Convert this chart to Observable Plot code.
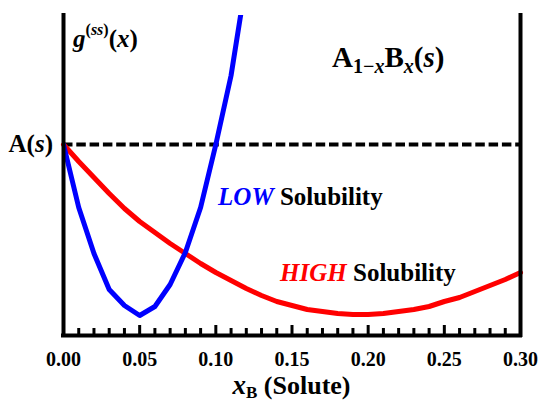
<!DOCTYPE html>
<html><head><meta charset="utf-8">
<script src="https://cdn.jsdelivr.net/npm/d3@7"></script>
<script src="https://cdn.jsdelivr.net/npm/@observablehq/plot@0.6"></script>
<style>body{margin:0;background:#fff} svg{display:block}</style>
</head><body><div id="chart"></div>
<script>
// composition x_B of the solute
const lowX  = [0.00,0.01,0.02,0.03,0.04,0.05,0.06,0.07,0.08,0.09,0.10,0.11,0.12];
// g(ss)(x) relative to A(s), low solubility (blue)
const lowG  = [0,-0.63,-1.09,-1.45,-1.61,-1.71,-1.62,-1.40,-1.08,-0.63,0,0.69,1.65];
const highX = [0.00,0.01,0.02,0.03,0.04,0.05,0.06,0.07,0.08,0.09,0.10,0.11,0.12,0.13,0.14,0.15,0.16,0.17,0.18,0.19,0.20,0.21,0.22,0.23,0.24,0.25,0.26,0.27,0.28,0.29,0.30];
// g(ss)(x) relative to A(s), high solubility (red)
const highG = [0,-0.17,-0.33,-0.49,-0.64,-0.77,-0.88,-0.99,-1.09,-1.19,-1.28,-1.36,-1.44,-1.51,-1.57,-1.61,-1.65,-1.67,-1.69,-1.70,-1.70,-1.69,-1.67,-1.65,-1.62,-1.57,-1.53,-1.47,-1.41,-1.35,-1.28];
const majorTicks = [0.00,0.05,0.10,0.15,0.20,0.25,0.30];
const minorTicks = [0.01,0.02,0.03,0.04,0.06,0.07,0.08,0.09,0.11,0.12,0.13,0.14,0.16,0.17,0.18,0.19,0.21,0.22,0.23,0.24,0.26,0.27,0.28,0.29];
const refLevel = [0]; // A(s)
const yDomain = [-1.91, 1.29];

const lowData = lowX.map((x, i) => ({x, g: lowG[i]}));
const highData = highX.map((x, i) => ({x, g: highG[i]}));
const font = "Liberation Serif";
const [yMin, yMax] = yDomain;

const plot = Plot.plot({
  width: 539, height: 404,
  marginLeft: 63, marginRight: 19, marginTop: 15, marginBottom: 69,
  x: {domain: [0, 0.3]},
  y: {domain: yDomain, axis: null},
  style: {background: "#fff", color: "#000"},
  marks: [
    Plot.ruleY(refLevel, {x1: 0, x2: 0.3, stroke: "#000", strokeWidth: 3.8, strokeDasharray: "9.5,3.8"}),
    Plot.line(highData, {x: "x", y: "g", stroke: "#ff0000", strokeWidth: 5, strokeLinejoin: "round", strokeLinecap: "round"}),
    Plot.line(lowData, {x: "x", y: "g", stroke: "#0000ff", strokeWidth: 5, strokeLinejoin: "round", strokeLinecap: "round", clip: true}),
    Plot.ruleX(minorTicks, {y1: yMin, y2: yMin + 0.07, stroke: "#000", strokeWidth: 3}),
    Plot.ruleX(majorTicks, {y1: yMin, y2: yMin + 0.1, stroke: "#000", strokeWidth: 3}),
    Plot.ruleX([0, 0.3], {y1: yMin, y2: yMax, stroke: "#000", strokeWidth: 4, strokeLinecap: "square"}),
    Plot.ruleY([yMin], {x1: 0, x2: 0.3, stroke: "#000", strokeWidth: 4, strokeLinecap: "square"}),
    Plot.axisX(majorTicks, {tickSize: 0, tickPadding: 16, tickFormat: d3.format(".2f"), fontSize: 20, fontWeight: "bold", fill: "#000", label: null})
  ]
});

const svg = d3.select(plot);
svg.attr("font-family", font).attr("font-weight", "bold");
svg.selectAll("g").attr("font-family", font);
svg.selectAll("text").attr("font-family", font).attr("font-weight", "bold");
const X = plot.scale("x"), Y = plot.scale("y");
function rich(x, y, parts, anchor = "start") {
  const t = svg.append("text").attr("x", x).attr("y", y)
    .attr("text-anchor", anchor).attr("font-family", font).attr("font-weight", "bold");
  for (const p of parts) {
    const s = t.append("tspan").text(p.t).attr("font-size", p.size).attr("font-family", font);
    if (p.italic) s.attr("font-style", "italic");
    if (p.dy) s.attr("dy", p.dy);
    s.attr("fill", p.fill || "#000");
  }
  return t;
}
// g^(ss)(x)
rich(X.apply(0.0066), Y.apply(0.97), [
  {t: "g", size: 25, italic: true},
  {t: "(", size: 16, dy: -12},
  {t: "ss", size: 16, italic: true},
  {t: ")", size: 16},
  {t: "(", size: 25, dy: 12},
  {t: "x", size: 25, italic: true},
  {t: ")", size: 25}
]);
// A1-xBx(s)
rich(X.apply(0.1766), Y.apply(0.77), [
  {t: "A", size: 29},
  {t: "1−", size: 20, dy: 6},
  {t: "x", size: 20, italic: true},
  {t: "B", size: 29, dy: -6},
  {t: "x", size: 20, italic: true, dy: 6},
  {t: "(", size: 29, dy: -6},
  {t: "s", size: 29, italic: true},
  {t: ")", size: 29}
]);
// A(s)
rich(X.apply(0) - 10, Y.apply(refLevel[0]) + 8, [
  {t: "A", size: 25}, {t: "(", size: 25}, {t: "s", size: 25, italic: true}, {t: ")", size: 25}
], "end");
// LOW Solubility
rich(X.apply(0.1018), Y.apply(-0.61), [
  {t: "LOW", size: 25, italic: true, fill: "#0000ff"},
  {t: " Solubility", size: 25}
]);
// HIGH Solubility
rich(X.apply(0.1425), Y.apply(-1.37), [
  {t: "HIGH", size: 25, italic: true, fill: "#ff0000"},
  {t: " Solubility", size: 25}
]);
// axis label
rich(X.apply(0.15), Y.apply(yMin) + 59, [
  {t: "x", size: 27, italic: true},
  {t: "B", size: 17, dy: 4},
  {t: " (Solute)", size: 26, dy: -4}
], "middle");

document.getElementById("chart").append(plot);
</script>
</body></html>
